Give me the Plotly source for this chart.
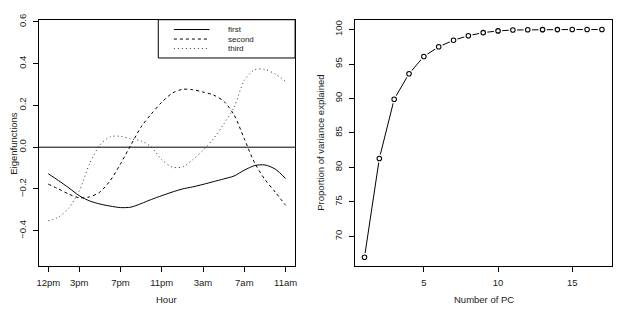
import plotly.graph_objects as go

# ---- data: left panel (eigenfunctions by hour) ----
hours = list(range(24))
hour_tick_vals = [0, 3, 7, 11, 15, 19, 23]
hour_tick_text = ["12pm", "3pm", "7pm", "11pm", "3am", "7am", "11am"]
first = [-0.127, -0.160, -0.195, -0.232, -0.257, -0.272, -0.282, -0.289, -0.287, -0.270,
         -0.250, -0.232, -0.215, -0.200, -0.190, -0.178, -0.165, -0.152, -0.138, -0.110,
         -0.088, -0.085, -0.105, -0.150]
second = [-0.177, -0.200, -0.225, -0.242, -0.238, -0.215, -0.160, -0.080, 0.010, 0.097,
          0.160, 0.215, 0.258, 0.277, 0.275, 0.264, 0.250, 0.220, 0.155, 0.040,
          -0.075, -0.155, -0.215, -0.278]
third = [-0.352, -0.335, -0.290, -0.210, -0.080, 0.010, 0.050, 0.052, 0.040, 0.030,
         0.000, -0.060, -0.095, -0.095, -0.060, -0.015, 0.040, 0.110, 0.190, 0.320,
         0.371, 0.372, 0.350, 0.315]
eig_ticks = [-0.4, -0.2, 0.0, 0.2, 0.4, 0.6]
eig_tick_text = ["\u22120.4", "\u22120.2", "0.0", "0.2", "0.4", "0.6"]

# ---- data: right panel (cumulative variance) ----
n_pc = list(range(1, 18))
prop_var = [67.0, 81.3, 89.9, 93.6, 96.1, 97.5, 98.45, 99.1, 99.55, 99.8, 99.93,
            99.97, 99.98, 99.99, 100.0, 100.0, 100.0]
pc_ticks = [5, 10, 15]
var_ticks = [70, 75, 80, 85, 90, 95, 100]

W, H = 617, 310
FONT = "Liberation Sans, Arial, sans-serif"
TXT = "#1a1a1a"

def px_x(p):
    return p / W

def px_y(p):
    return 1 - p / H

fig = go.Figure()

lw = 1.0
DASH = "3px,3px"
DOT = "1px,3px"
fig.add_trace(go.Scatter(x=hours, y=first, mode="lines", line=dict(color="black", width=lw, shape="spline", smoothing=0.8),
                         name="first", xaxis="x", yaxis="y", showlegend=False))
fig.add_trace(go.Scatter(x=hours, y=second, mode="lines", line=dict(color="black", width=lw, dash=DASH, shape="spline", smoothing=0.8),
                         name="second", xaxis="x", yaxis="y", showlegend=False))
fig.add_trace(go.Scatter(x=hours, y=third, mode="lines", line=dict(color="#333333", width=lw, dash=DOT, shape="spline", smoothing=0.8),
                         name="third", xaxis="x", yaxis="y", showlegend=False))

# right panel: line, white gap markers, open circles (R type="b")
fig.add_trace(go.Scatter(x=n_pc, y=prop_var, mode="lines", line=dict(color="black", width=lw),
                         xaxis="x2", yaxis="y2", showlegend=False, hoverinfo="skip"))
fig.add_trace(go.Scatter(x=n_pc, y=prop_var, mode="markers",
                         marker=dict(symbol="circle", size=8.5, color="white", line=dict(width=0)),
                         xaxis="x2", yaxis="y2", showlegend=False, hoverinfo="skip"))
fig.add_trace(go.Scatter(x=n_pc, y=prop_var, mode="markers",
                         marker=dict(symbol="circle", size=4.5, color="white", line=dict(color="black", width=1.1)),
                         xaxis="x2", yaxis="y2", showlegend=False))

ydom = [px_y(265), px_y(14)]
axis_common = dict(showline=True, mirror=True, linecolor="black", linewidth=1,
                   ticks="outside", ticklen=5, tickwidth=1, tickcolor="black",
                   showgrid=False, zeroline=False,
                   tickfont=dict(family=FONT, size=9.5, color=TXT))

fig.update_layout(
    width=W, height=H,
    margin=dict(l=0, r=0, t=0, b=0),
    paper_bgcolor="white", plot_bgcolor="white",
    showlegend=False,
    xaxis=dict(domain=[px_x(37), px_x(295)], range=[-0.92, 23.92], anchor="y",
               tickmode="array", tickvals=hour_tick_vals, ticktext=hour_tick_text,
               ticklabelstandoff=3, **axis_common),
    yaxis=dict(domain=ydom, range=[-0.568, 0.61], anchor="x",
               tickmode="array", tickvals=eig_ticks, ticktext=eig_tick_text,
               tickangle=-90, ticklabelstandoff=3, **axis_common),
    xaxis2=dict(domain=[px_x(355.3), px_x(614)], range=[0.36, 17.68], anchor="y2",
                tickmode="array", tickvals=pc_ticks, ticklabelstandoff=3, **axis_common),
    yaxis2=dict(domain=ydom, range=[65.74, 101.42], anchor="x2",
                tickmode="array", tickvals=var_ticks, tickangle=-90, ticklabelstandoff=3, **axis_common),
)

# horizontal reference line at 0
fig.add_shape(type="line", xref="x domain", yref="y", x0=0, x1=1, y0=0, y1=0,
              line=dict(color="black", width=1))

# legend box (top right of left panel)
fig.add_shape(type="rect", xref="paper", yref="paper",
              x0=px_x(157.3), x1=px_x(295), y0=px_y(53), y1=px_y(14),
              line=dict(color="black", width=1), fillcolor="white", layer="above")
legend_names = ["first", "second", "third"]
legend_dash = ["solid", DASH, DOT]
legend_color = ["black", "black", "#333333"]
legend_rows = [24, 33.7, 43.3]
for name, dash, col, row in zip(legend_names, legend_dash, legend_color, legend_rows):
    fig.add_shape(type="line", xref="paper", yref="paper",
                  x0=px_x(173), x1=px_x(209), y0=px_y(row), y1=px_y(row),
                  line=dict(color=col, width=lw, dash=dash), layer="above")
    fig.add_annotation(text=name, xref="paper", yref="paper", x=px_x(225), y=px_y(row),
                       xanchor="left", yanchor="middle", showarrow=False,
                       font=dict(family=FONT, size=8, color=TXT))

# axis titles
titles = [
    ("Hour", px_x(166), px_y(299), 0),
    ("Number of PC", px_x(484.7), px_y(299), 0),
    ("Eigenfunctions", px_x(12), px_y(139.5), -90),
    ("Proportion of variance explained", px_x(321), px_y(139.5), -90),
]
for t, x, y, ang in titles:
    fig.add_annotation(text=t, xref="paper", yref="paper", x=x, y=y,
                       xanchor="center", yanchor="middle", showarrow=False, textangle=ang,
                       font=dict(family=FONT, size=9.5, color=TXT))

fig.write_html("out.html")
